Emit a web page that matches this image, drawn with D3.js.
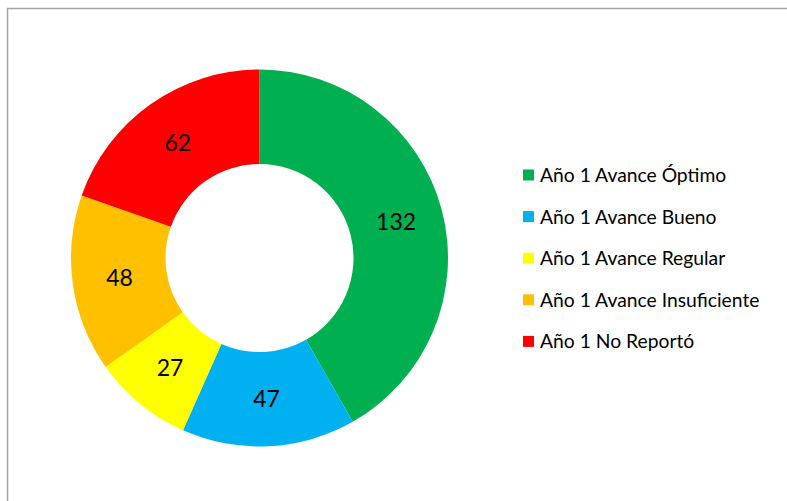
<!DOCTYPE html>
<html>
<head>
<meta charset="utf-8">
<script src="https://cdn.jsdelivr.net/npm/d3@7"></script>
<style>
  body { margin: 0; background: #fff; }
  text { font-family: Lato, "Open Sans", sans-serif; fill: #000; }
</style>
</head>
<body>
<div id="chart"></div>
<script>
var categories = ["Año 1 Avance Óptimo", "Año 1 Avance Bueno", "Año 1 Avance Regular", "Año 1 Avance Insuficiente", "Año 1 No Reportó"];
var values = [132, 47, 27, 48, 62];
var colors = ["#00B050", "#00B0F0", "#FFFF00", "#FFC000", "#FF0000"];

function draw_donut(element) {
    var svg = d3.select("#" + element).append("svg").attr("width", 787).attr("height", 501);

    // chart frame (right and bottom edges fall outside the picture)
    svg.append("rect")
        .attr("x", 7.5).attr("y", 8.5)
        .attr("width", 820).attr("height", 520)
        .attr("fill", "#fff")
        .attr("stroke", "#a6a6a6")
        .attr("stroke-width", 1.5);

    var cx = 259.5, cy = 258, outer = 188.5, inner = 94;

    var pie = d3.pie().sort(null).value(function (d) { return d; });
    var arc = d3.arc().innerRadius(inner).outerRadius(outer);
    var labelArc = d3.arc().innerRadius((inner + outer) / 2).outerRadius((inner + outer) / 2);
    var z = d3.scaleOrdinal().domain(categories).range(colors);

    var g = svg.append("g").attr("transform", "translate(" + cx + "," + cy + ")");
    var arcs = pie(values);

    g.selectAll("path")
        .data(arcs)
        .enter().append("path")
        .attr("d", arc)
        .attr("fill", function (d, i) { return z(categories[i]); });

    g.selectAll(".lbl")
        .data(arcs)
        .enter().append("text")
        .attr("class", "lbl")
        .attr("transform", function (d) { return "translate(" + labelArc.centroid(d) + ")"; })
        .attr("text-anchor", "middle")
        .attr("dy", "0.36em")
        .style("font-size", "23px")
        .text(function (d) { return d.data; });

    // legend
    var legend = svg.append("g").attr("transform", "translate(523,175)");
    var rows = legend.selectAll(".row")
        .data(categories)
        .enter().append("g")
        .attr("class", "row")
        .attr("transform", function (d, i) { return "translate(0," + (i * 41.6) + ")"; });

    rows.append("rect")
        .attr("x", 0).attr("y", -5.5)
        .attr("width", 11).attr("height", 11)
        .attr("fill", function (d) { return z(d); });

    rows.append("text")
        .attr("x", 17)
        .attr("dy", "0.36em")
        .style("font-size", "19.3px")
        .text(function (d) { return d; });
}

draw_donut("chart");
</script>
</body>
</html>
